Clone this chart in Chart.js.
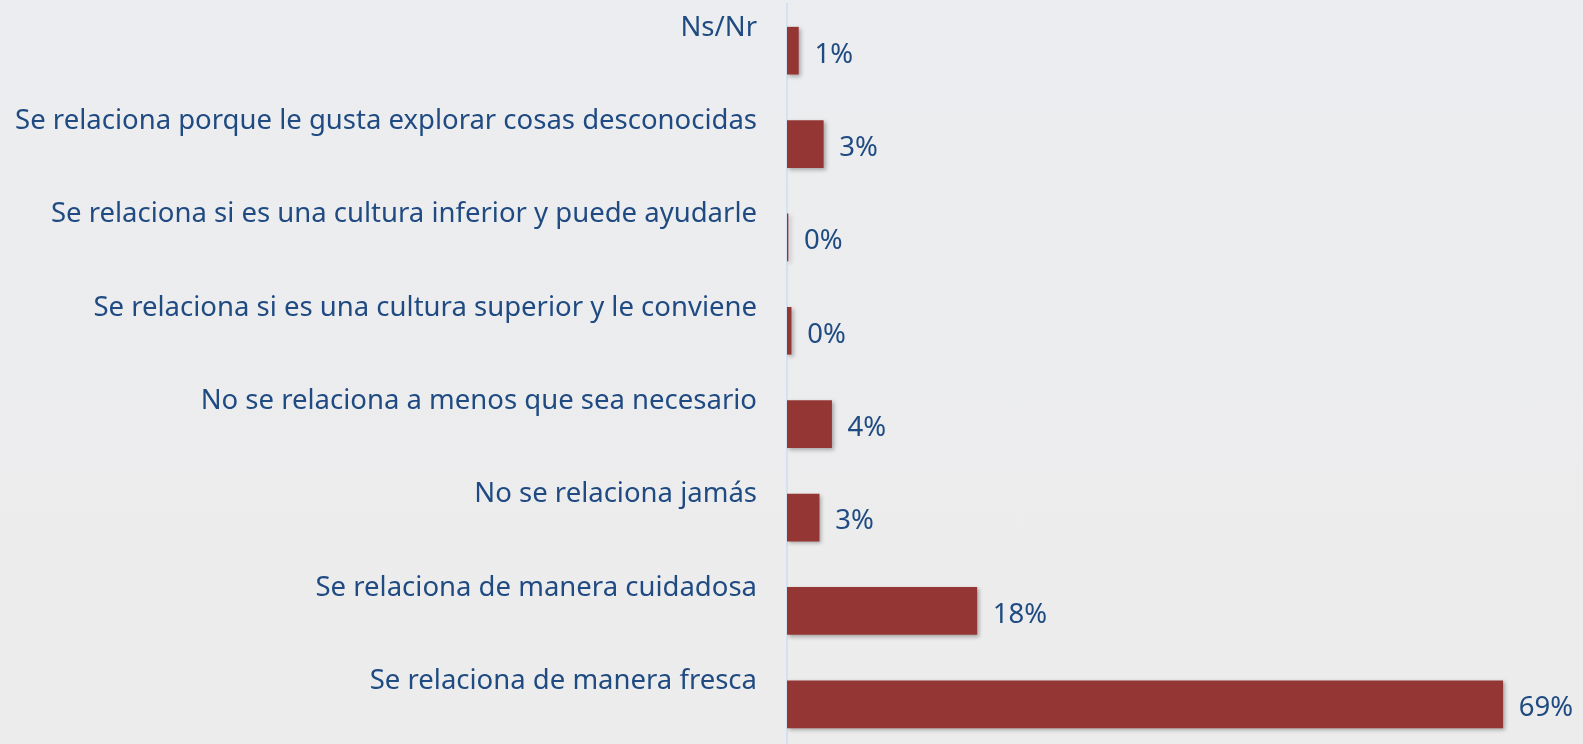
<!DOCTYPE html>
<html>
<head>
<meta charset="utf-8">
<script src="https://cdn.jsdelivr.net/npm/chart.js@4/dist/chart.umd.min.js"></script>
<style>
  html, body { margin: 0; padding: 0; overflow: hidden; }
  body { width: 1583px; height: 744px; background: linear-gradient(#ecedf0, #ececec); }
  #wrap { width: 1583px; height: 751px; position: relative; }
</style>
</head>
<body>
<div id="wrap"><canvas id="chart"></canvas></div>
<script>
// Categories, top to bottom
const categories = [
  'Ns/Nr',
  'Se relaciona porque le gusta explorar cosas desconocidas',
  'Se relaciona si es una cultura inferior y puede ayudarle',
  'Se relaciona si es una cultura superior y le conviene',
  'No se relaciona a menos que sea necesario',
  'No se relaciona jamás',
  'Se relaciona de manera cuidadosa',
  'Se relaciona de manera fresca'
];
// Percentages
const values = [1.1, 3.5, 0.1, 0.4, 4.3, 3.1, 18.3, 69];
const valueLabels = ['1%', '3%', '0%', '0%', '4%', '3%', '18%', '69%'];

const textColor = '#1f4b82';

const shadowPlugin = {
  id: 'barShadow',
  beforeDatasetsDraw(chart) {
    const ctx = chart.ctx;
    ctx.save();
    ctx.shadowColor = 'rgba(0,0,0,0.3)';
    ctx.shadowBlur = 4;
    ctx.shadowOffsetX = 2;
    ctx.shadowOffsetY = 2;
  },
  afterDatasetsDraw(chart) {
    chart.ctx.restore();
  }
};

const valueLabelPlugin = {
  id: 'valueLabels',
  afterDraw(chart) {
    const ctx = chart.ctx;
    const meta = chart.getDatasetMeta(0);
    ctx.save();
    ctx.font = '27.5px "Noto Sans"';
    ctx.fillStyle = textColor;
    ctx.textAlign = 'left';
    ctx.textBaseline = 'middle';
    meta.data.forEach((bar, i) => {
      ctx.fillText(valueLabels[i], bar.x + 16, bar.y + 4);
    });
    ctx.restore();
  }
};

new Chart(document.getElementById('chart'), {
  type: 'bar',
  data: {
    labels: categories,
    datasets: [{
      data: values,
      backgroundColor: '#943634',
      borderWidth: 0,
      barThickness: 47
    }]
  },
  options: {
    indexAxis: 'y',
    responsive: true,
    maintainAspectRatio: false,
    animation: false,
    layout: { padding: { left: 0, right: 18, top: 4, bottom: 0 } },
    plugins: {
      legend: { display: false },
      tooltip: { enabled: false }
    },
    scales: {
      x: {
        display: false,
        min: 0,
        max: 75
      },
      y: {
        afterFit(scale) {
          scale.width = 787;
          scale.paddingTop = 0;
          scale.paddingBottom = 0;
        },
        grid: { display: false, drawTicks: false },
        border: { display: true, color: '#d3e1f1', width: 2 },
        ticks: {
          color: textColor,
          font: { family: 'Noto Sans', size: 27.5 },
          padding: 30,
          labelOffset: -23
        }
      }
    }
  },
  plugins: [shadowPlugin, valueLabelPlugin]
});
</script>
</body>
</html>
